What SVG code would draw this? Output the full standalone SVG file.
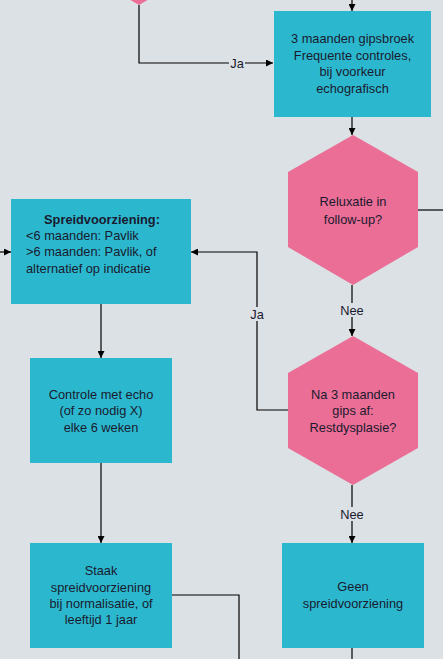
<svg xmlns="http://www.w3.org/2000/svg" width="443" height="659" viewBox="0 0 443 659">
<style>
.box{fill:#2bb8cf}
.hex{fill:#ea6e96}
.t{font-family:"Liberation Sans",Arial,sans-serif;font-size:12.8px;fill:#1a1a2e;text-anchor:middle}
.tl{text-anchor:start}
.b{font-weight:bold}
.ln{fill:none;stroke:#000;stroke-width:1.2}
.lbl{font-family:"Liberation Sans",Arial,sans-serif;font-size:12.8px;fill:#1a1a2e;text-anchor:middle}
.lb{fill:#dce1e5}
</style>
<defs>
<marker id="ar" viewBox="0 0 8 8" refX="8" refY="4" markerWidth="7" markerHeight="7" markerUnits="userSpaceOnUse" orient="auto">
<path d="M0,0 L8,4 L0,8 Z" fill="#000"/>
</marker>
</defs>
<rect width="443" height="659" fill="#dce1e5"/>
<g id="connectors">
<path class="ln" d="M139,5 V63 H273" marker-end="url(#ar)"/>
<path class="ln" d="M352,0 V11" marker-end="url(#ar)"/>
<path class="ln" d="M352,117 V135" marker-end="url(#ar)"/>
<path class="ln" d="M418,210 H443"/>
<path class="ln" d="M352,285 V336" marker-end="url(#ar)"/>
<path class="ln" d="M288,410 H257 V252 H191" marker-end="url(#ar)"/>
<path class="ln" d="M0,252 H11" marker-end="url(#ar)"/>
<path class="ln" d="M101,304 V358" marker-end="url(#ar)"/>
<path class="ln" d="M101,463 V543" marker-end="url(#ar)"/>
<path class="ln" d="M352,485 V543" marker-end="url(#ar)"/>
<path class="ln" d="M172,595 H239 V659"/>
<path class="ln" d="M352,648 V659"/>
<rect class="lb" x="229" y="56" width="16" height="14"/>
<text class="lbl" x="237" y="67.5">Ja</text>
<rect class="lb" x="248" y="307" width="18" height="14"/>
<text class="lbl" x="257" y="318.5">Ja</text>
<rect class="lb" x="339" y="303" width="26" height="14"/>
<text class="lbl" x="352" y="314.5">Nee</text>
<rect class="lb" x="339" y="507" width="26" height="14"/>
<text class="lbl" x="352" y="518.5">Nee</text>
</g>
<g id="hex-top">
<polygon class="hex" points="139,-145 204,-108 204,-33 139,5 74,-33 74,-108"/>
</g>
<g id="gipsbroek">
<rect class="box" x="274" y="11" width="157" height="106"/>
<text class="t" x="352.5" y="43">3 maanden gipsbroek</text>
<text class="t" x="352.5" y="59.5">Frequente controles,</text>
<text class="t" x="352.5" y="76">bij voorkeur</text>
<text class="t" x="352.5" y="92.5">echografisch</text>
</g>
<g id="reluxatie">
<polygon class="hex" points="353,135 418,172 418,247 353,285 288,247 288,172"/>
<text class="t" x="353" y="206">Reluxatie in</text>
<text class="t" x="353" y="223.5">follow-up?</text>
</g>
<g id="spreid">
<rect class="box" x="11" y="199" width="180" height="105"/>
<text class="t b" x="102" y="223.5">Spreidvoorziening:</text>
<text class="t tl" x="26" y="240">&lt;6 maanden: Pavlik</text>
<text class="t tl" x="26" y="256">&gt;6 maanden: Pavlik, of</text>
<text class="t tl" x="26" y="272.5">alternatief op indicatie</text>
</g>
<g id="restdysplasie">
<polygon class="hex" points="353,336 418,373 418,448 353,485 288,448 288,373"/>
<text class="t" x="353" y="398.5">Na 3 maanden</text>
<text class="t" x="353" y="415">gips af:</text>
<text class="t" x="353" y="431.5">Restdysplasie?</text>
</g>
<g id="controle">
<rect class="box" x="30" y="358" width="142" height="105"/>
<text class="t" x="101" y="398.5">Controle met echo</text>
<text class="t" x="101" y="415">(of zo nodig X)</text>
<text class="t" x="101" y="431.5">elke 6 weken</text>
</g>
<g id="staak">
<rect class="box" x="30" y="543" width="142" height="105"/>
<text class="t" x="101" y="575">Staak</text>
<text class="t" x="101" y="591.5">spreidvoorziening</text>
<text class="t" x="101" y="607.5">bij normalisatie, of</text>
<text class="t" x="101" y="624">leeftijd 1 jaar</text>
</g>
<g id="geen">
<rect class="box" x="282" y="543" width="142" height="105"/>
<text class="t" x="353" y="591">Geen</text>
<text class="t" x="353" y="607.5">spreidvoorziening</text>
</g>
</svg>
